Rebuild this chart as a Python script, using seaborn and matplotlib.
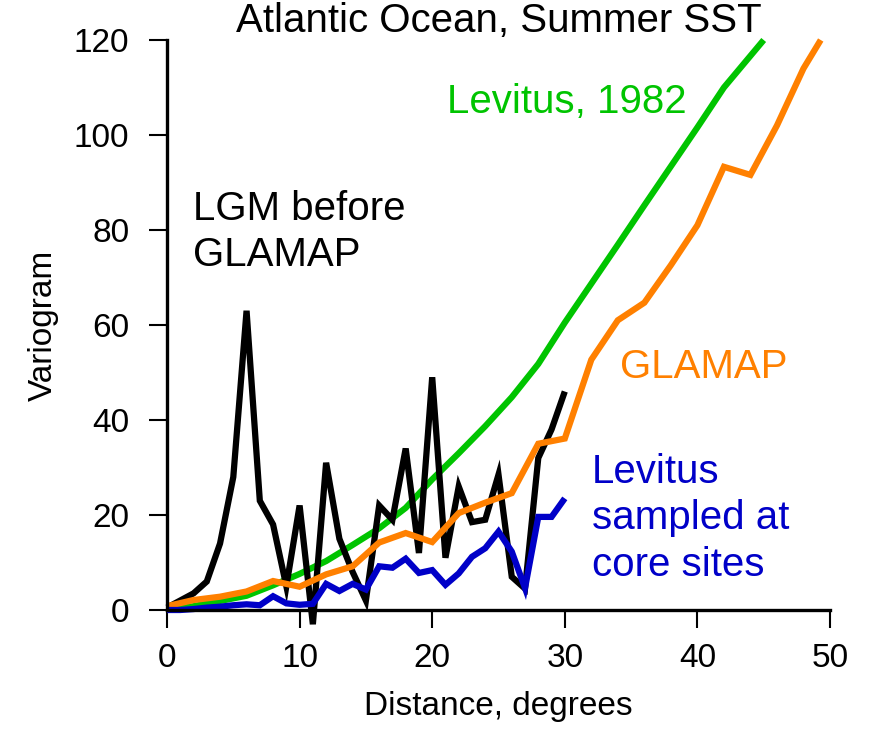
import numpy as np
import pandas as pd
import matplotlib
matplotlib.use("Agg")
import matplotlib.pyplot as plt
import seaborn as sns

# ---- data ----
lgm_x = list(range(0, 31))
lgm_y = [0.5, 2, 3.5, 6, 14, 28, 63, 23, 18, 5, 22, -3, 31, 15, 8, 2,
         22, 19, 34, 12, 49, 11, 26, 18.5, 19, 28.5, 7, 4.5, 32, 38, 46]

lev_x = [0, 2, 4, 6, 8, 10, 12, 14, 16, 18, 20, 22, 24, 26, 28, 30,
         32, 34, 36, 38, 40, 42, 45]
lev_y = [0, 0.8, 1.9, 3, 5.2, 7.6, 10.3, 13.7, 17.2, 21.5, 27.5, 33, 38.7,
         44.8, 51.8, 60.5, 68.7, 76.9, 85.2, 93.4, 101.6, 110, 120]

glamap_x = [0, 2, 4, 6, 8, 10, 12, 14, 16, 18, 20, 22, 24, 26, 28, 30,
            32, 34, 36, 38, 40, 42, 44, 46, 48, 49.3]
glamap_y = [0.8, 2.1, 2.8, 3.9, 6.1, 4.9, 7.5, 9.2, 14.2, 16.2, 14.3, 20.4,
            22.6, 24.6, 35, 36.1, 52.7, 61, 64.7, 72.6, 81, 93.3, 91.6,
            102, 114, 120]

samp_x = list(range(0, 31))
samp_y = [0, 0, 0.2, 0.5, 0.7, 1, 1.2, 1, 2.9, 1.4, 1.1, 1.3, 5.5, 4, 5.5,
          4.3, 9.2, 8.9, 10.8, 7.8, 8.4, 5.3, 7.7, 11.2, 13, 16.5, 12.3,
          4.6, 19.6, 19.6, 23.5]

x_ticks = [0, 10, 20, 30, 40, 50]
y_ticks = [0, 20, 40, 60, 80, 100, 120]

title = "Atlantic Ocean, Summer SST"
x_label = "Distance, degrees"
y_label = "Variogram"

# ---- style ----
sns.set_style("ticks")
plt.rcParams["font.family"] = ["Liberation Sans", "DejaVu Sans"]

C_BLACK = "#000000"
C_GREEN = "#00c400"
C_ORANGE = "#ff8000"
C_BLUE = "#0000c8"

fig = plt.figure(figsize=(8.72, 7.3), dpi=100)
ax = fig.add_axes([167 / 872, 120 / 730, (830 - 167) / 872, 570 / 730])

line_kw = dict(lw=4.5, clip_on=False, solid_joinstyle="miter",
               solid_capstyle="butt", ax=ax, legend=False)
sns.lineplot(x=lev_x, y=lev_y, color=C_GREEN, **line_kw)
sns.lineplot(x=lgm_x, y=lgm_y, color=C_BLACK, **line_kw)
sns.lineplot(x=glamap_x, y=glamap_y, color=C_ORANGE, **line_kw)
sns.lineplot(x=samp_x, y=samp_y, color=C_BLUE, **line_kw)

ax.set_xlim(0, 50)
ax.set_ylim(0, 120)
ax.set_xticks(x_ticks)
ax.set_yticks(y_ticks)
ax.tick_params(axis="both", direction="out", length=13, width=1.5,
               labelsize=24, colors="black")
ax.tick_params(axis="x", pad=11)
ax.tick_params(axis="y", pad=14)
sns.despine(ax=ax)
for s in ("left", "bottom"):
    ax.spines[s].set_linewidth(2.4)
    ax.spines[s].set_color("black")

ax.set_xlabel(x_label, fontsize=24, labelpad=12, color="black")
ax.set_ylabel(y_label, fontsize=24, labelpad=11, color="black")
ax.set_title(title, fontsize=29, pad=-2, color="black")

txt_kw = dict(fontsize=29, ha="left", va="top", linespacing=1.28)
ax.text(1.96, 88.4, "LGM before\nGLAMAP", color=C_BLACK, **txt_kw)
ax.text(21.1, 110.9, "Levitus, 1982", color=C_GREEN, **txt_kw)
ax.text(34.2, 55.2, "GLAMAP", color=C_ORANGE, **txt_kw)
ax.text(32.05, 33.05, "Levitus\nsampled at\ncore sites", color=C_BLUE, **txt_kw)

fig.savefig("out.png", dpi=100)
